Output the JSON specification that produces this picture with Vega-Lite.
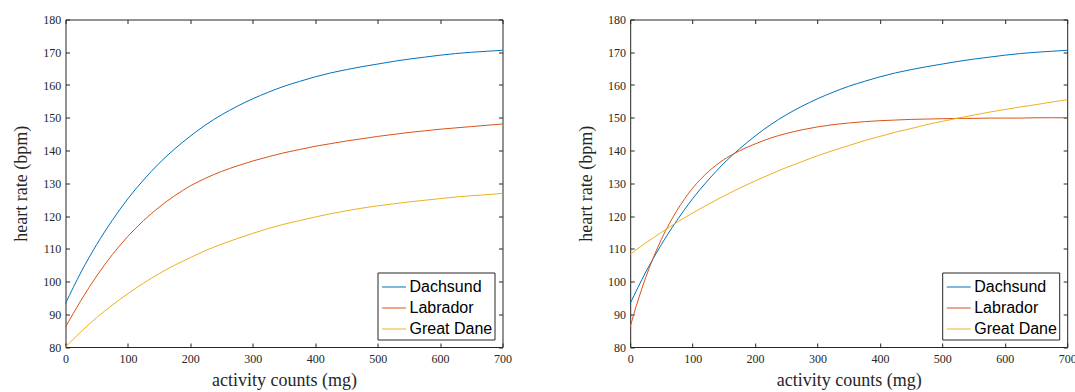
{
  "$schema": "https://vega.github.io/schema/vega-lite/v6.json",
  "padding": {"left": 12.5, "top": 13.5, "right": 5, "bottom": 0},
  "bounds": "flush",
  "spacing": 127.7,
  "background": "white",
  "datasets": {
    "left": [
      {"x":0,"y":93.3,"breed":"Dachsund"},{"x":25,"y":102.9,"breed":"Dachsund"},{"x":50,"y":111.3,"breed":"Dachsund"},{"x":75,"y":118.7,"breed":"Dachsund"},{"x":100,"y":125.3,"breed":"Dachsund"},{"x":125,"y":131.0,"breed":"Dachsund"},{"x":150,"y":136.1,"breed":"Dachsund"},{"x":175,"y":140.5,"breed":"Dachsund"},{"x":200,"y":144.4,"breed":"Dachsund"},{"x":225,"y":147.9,"breed":"Dachsund"},{"x":250,"y":150.9,"breed":"Dachsund"},{"x":275,"y":153.5,"breed":"Dachsund"},{"x":300,"y":155.8,"breed":"Dachsund"},{"x":325,"y":157.8,"breed":"Dachsund"},{"x":350,"y":159.6,"breed":"Dachsund"},{"x":375,"y":161.1,"breed":"Dachsund"},{"x":400,"y":162.5,"breed":"Dachsund"},{"x":425,"y":163.7,"breed":"Dachsund"},{"x":450,"y":164.7,"breed":"Dachsund"},{"x":475,"y":165.6,"breed":"Dachsund"},{"x":500,"y":166.4,"breed":"Dachsund"},{"x":525,"y":167.2,"breed":"Dachsund"},{"x":550,"y":167.9,"breed":"Dachsund"},{"x":575,"y":168.5,"breed":"Dachsund"},{"x":600,"y":169.1,"breed":"Dachsund"},{"x":625,"y":169.6,"breed":"Dachsund"},{"x":650,"y":170.0,"breed":"Dachsund"},{"x":675,"y":170.3,"breed":"Dachsund"},{"x":700,"y":170.6,"breed":"Dachsund"},
      {"x":0,"y":86.1,"breed":"Labrador"},{"x":25,"y":94.3,"breed":"Labrador"},{"x":50,"y":101.7,"breed":"Labrador"},{"x":75,"y":108.2,"breed":"Labrador"},{"x":100,"y":113.8,"breed":"Labrador"},{"x":125,"y":118.6,"breed":"Labrador"},{"x":150,"y":122.7,"breed":"Labrador"},{"x":175,"y":126.2,"breed":"Labrador"},{"x":200,"y":129.2,"breed":"Labrador"},{"x":225,"y":131.6,"breed":"Labrador"},{"x":250,"y":133.6,"breed":"Labrador"},{"x":275,"y":135.3,"breed":"Labrador"},{"x":300,"y":136.8,"breed":"Labrador"},{"x":325,"y":138.1,"breed":"Labrador"},{"x":350,"y":139.3,"breed":"Labrador"},{"x":375,"y":140.3,"breed":"Labrador"},{"x":400,"y":141.3,"breed":"Labrador"},{"x":425,"y":142.1,"breed":"Labrador"},{"x":450,"y":142.9,"breed":"Labrador"},{"x":475,"y":143.6,"breed":"Labrador"},{"x":500,"y":144.3,"breed":"Labrador"},{"x":525,"y":144.9,"breed":"Labrador"},{"x":550,"y":145.5,"breed":"Labrador"},{"x":575,"y":146.0,"breed":"Labrador"},{"x":600,"y":146.5,"breed":"Labrador"},{"x":625,"y":146.9,"breed":"Labrador"},{"x":650,"y":147.3,"breed":"Labrador"},{"x":675,"y":147.7,"breed":"Labrador"},{"x":700,"y":148.1,"breed":"Labrador"},
      {"x":0,"y":80.0,"breed":"Great Dane"},{"x":25,"y":84.7,"breed":"Great Dane"},{"x":50,"y":89.0,"breed":"Great Dane"},{"x":75,"y":92.8,"breed":"Great Dane"},{"x":100,"y":96.3,"breed":"Great Dane"},{"x":125,"y":99.5,"breed":"Great Dane"},{"x":150,"y":102.4,"breed":"Great Dane"},{"x":175,"y":105.0,"breed":"Great Dane"},{"x":200,"y":107.3,"breed":"Great Dane"},{"x":225,"y":109.5,"breed":"Great Dane"},{"x":250,"y":111.4,"breed":"Great Dane"},{"x":275,"y":113.1,"breed":"Great Dane"},{"x":300,"y":114.7,"breed":"Great Dane"},{"x":325,"y":116.2,"breed":"Great Dane"},{"x":350,"y":117.5,"breed":"Great Dane"},{"x":375,"y":118.6,"breed":"Great Dane"},{"x":400,"y":119.7,"breed":"Great Dane"},{"x":425,"y":120.7,"breed":"Great Dane"},{"x":450,"y":121.6,"breed":"Great Dane"},{"x":475,"y":122.4,"breed":"Great Dane"},{"x":500,"y":123.1,"breed":"Great Dane"},{"x":525,"y":123.7,"breed":"Great Dane"},{"x":550,"y":124.3,"breed":"Great Dane"},{"x":575,"y":124.8,"breed":"Great Dane"},{"x":600,"y":125.3,"breed":"Great Dane"},{"x":625,"y":125.8,"breed":"Great Dane"},{"x":650,"y":126.2,"breed":"Great Dane"},{"x":675,"y":126.5,"breed":"Great Dane"},{"x":700,"y":126.9,"breed":"Great Dane"}
    ],
    "right": [
      {"x":0,"y":93.3,"breed":"Dachsund"},{"x":25,"y":102.9,"breed":"Dachsund"},{"x":50,"y":111.3,"breed":"Dachsund"},{"x":75,"y":118.7,"breed":"Dachsund"},{"x":100,"y":125.3,"breed":"Dachsund"},{"x":125,"y":131.0,"breed":"Dachsund"},{"x":150,"y":136.1,"breed":"Dachsund"},{"x":175,"y":140.5,"breed":"Dachsund"},{"x":200,"y":144.4,"breed":"Dachsund"},{"x":225,"y":147.9,"breed":"Dachsund"},{"x":250,"y":150.9,"breed":"Dachsund"},{"x":275,"y":153.5,"breed":"Dachsund"},{"x":300,"y":155.8,"breed":"Dachsund"},{"x":325,"y":157.8,"breed":"Dachsund"},{"x":350,"y":159.6,"breed":"Dachsund"},{"x":375,"y":161.1,"breed":"Dachsund"},{"x":400,"y":162.5,"breed":"Dachsund"},{"x":425,"y":163.7,"breed":"Dachsund"},{"x":450,"y":164.7,"breed":"Dachsund"},{"x":475,"y":165.6,"breed":"Dachsund"},{"x":500,"y":166.4,"breed":"Dachsund"},{"x":525,"y":167.2,"breed":"Dachsund"},{"x":550,"y":167.9,"breed":"Dachsund"},{"x":575,"y":168.5,"breed":"Dachsund"},{"x":600,"y":169.1,"breed":"Dachsund"},{"x":625,"y":169.6,"breed":"Dachsund"},{"x":650,"y":170.0,"breed":"Dachsund"},{"x":675,"y":170.3,"breed":"Dachsund"},{"x":700,"y":170.6,"breed":"Dachsund"},
      {"x":0,"y":86.1,"breed":"Labrador"},{"x":5,"y":89.5,"breed":"Labrador"},{"x":10,"y":92.7,"breed":"Labrador"},{"x":25,"y":101.3,"breed":"Labrador"},{"x":50,"y":112.9,"breed":"Labrador"},{"x":75,"y":121.7,"breed":"Labrador"},{"x":100,"y":128.5,"breed":"Labrador"},{"x":125,"y":133.5,"breed":"Labrador"},{"x":150,"y":137.2,"breed":"Labrador"},{"x":175,"y":139.9,"breed":"Labrador"},{"x":200,"y":142.0,"breed":"Labrador"},{"x":225,"y":143.8,"breed":"Labrador"},{"x":250,"y":145.2,"breed":"Labrador"},{"x":275,"y":146.3,"breed":"Labrador"},{"x":300,"y":147.2,"breed":"Labrador"},{"x":325,"y":147.9,"breed":"Labrador"},{"x":350,"y":148.4,"breed":"Labrador"},{"x":375,"y":148.8,"breed":"Labrador"},{"x":400,"y":149.1,"breed":"Labrador"},{"x":425,"y":149.3,"breed":"Labrador"},{"x":450,"y":149.5,"breed":"Labrador"},{"x":475,"y":149.6,"breed":"Labrador"},{"x":500,"y":149.7,"breed":"Labrador"},{"x":525,"y":149.8,"breed":"Labrador"},{"x":550,"y":149.8,"breed":"Labrador"},{"x":575,"y":149.9,"breed":"Labrador"},{"x":600,"y":149.9,"breed":"Labrador"},{"x":625,"y":149.9,"breed":"Labrador"},{"x":650,"y":150.0,"breed":"Labrador"},{"x":675,"y":150.0,"breed":"Labrador"},{"x":700,"y":150.0,"breed":"Labrador"},
      {"x":0,"y":108.3,"breed":"Great Dane"},{"x":25,"y":111.8,"breed":"Great Dane"},{"x":50,"y":115.0,"breed":"Great Dane"},{"x":75,"y":118.1,"breed":"Great Dane"},{"x":100,"y":120.9,"breed":"Great Dane"},{"x":125,"y":123.6,"breed":"Great Dane"},{"x":150,"y":126.1,"breed":"Great Dane"},{"x":175,"y":128.5,"breed":"Great Dane"},{"x":200,"y":130.7,"breed":"Great Dane"},{"x":225,"y":132.8,"breed":"Great Dane"},{"x":250,"y":134.8,"breed":"Great Dane"},{"x":275,"y":136.6,"breed":"Great Dane"},{"x":300,"y":138.4,"breed":"Great Dane"},{"x":325,"y":140.0,"breed":"Great Dane"},{"x":350,"y":141.5,"breed":"Great Dane"},{"x":375,"y":143.0,"breed":"Great Dane"},{"x":400,"y":144.3,"breed":"Great Dane"},{"x":425,"y":145.6,"breed":"Great Dane"},{"x":450,"y":146.7,"breed":"Great Dane"},{"x":475,"y":147.9,"breed":"Great Dane"},{"x":500,"y":148.9,"breed":"Great Dane"},{"x":525,"y":149.9,"breed":"Great Dane"},{"x":550,"y":150.8,"breed":"Great Dane"},{"x":575,"y":151.7,"breed":"Great Dane"},{"x":600,"y":152.5,"breed":"Great Dane"},{"x":625,"y":153.3,"breed":"Great Dane"},{"x":650,"y":154.0,"breed":"Great Dane"},{"x":675,"y":154.8,"breed":"Great Dane"},{"x":700,"y":155.5,"breed":"Great Dane"}
    ]
  },
  "hconcat": [
    {
      "width": 437, "height": 327.5,
      "data": {"name": "left"},
      "layer": [
        {
          "mark": {"type": "line", "strokeWidth": 1, "interpolate": "monotone"},
          "encoding": {
            "x": {"field": "x", "type": "quantitative", "scale": {"domain": [0, 700], "nice": false}, "axis": {"values": [0,100,200,300,400,500,600,700], "title": "activity counts (mg)"}},
            "y": {"field": "y", "type": "quantitative", "scale": {"domain": [80, 180], "nice": false, "zero": false}, "axis": {"values": [80,90,100,110,120,130,140,150,160,170,180], "title": "heart rate (bpm)"}},
            "color": {"field": "breed", "type": "nominal", "sort": ["Dachsund", "Labrador", "Great Dane"], "scale": {"domain": ["Dachsund", "Labrador", "Great Dane"], "range": ["#0072BD", "#D95319", "#EDB120"]}, "legend": {"title": null}}
          }
        },
        {
          "mark": {"type": "line", "opacity": 0},
          "encoding": {
            "x": {"field": "x", "type": "quantitative", "axis": {"orient": "top", "labels": false, "title": null, "values": [0,100,200,300,400,500,600,700]}},
            "y": {"field": "y", "type": "quantitative", "axis": {"orient": "right", "labels": false, "title": null, "values": [80,90,100,110,120,130,140,150,160,170,180]}},
            "detail": {"field": "breed"}
          }
        }
      ],
      "resolve": {"axis": {"x": "independent", "y": "independent"}}
    },
    {
      "width": 437, "height": 327.5,
      "data": {"name": "right"},
      "layer": [
        {
          "mark": {"type": "line", "strokeWidth": 1, "interpolate": "monotone"},
          "encoding": {
            "x": {"field": "x", "type": "quantitative", "scale": {"domain": [0, 700], "nice": false}, "axis": {"values": [0,100,200,300,400,500,600,700], "title": "activity counts (mg)"}},
            "y": {"field": "y", "type": "quantitative", "scale": {"domain": [80, 180], "nice": false, "zero": false}, "axis": {"values": [80,90,100,110,120,130,140,150,160,170,180], "title": "heart rate (bpm)"}},
            "color": {"field": "breed", "type": "nominal", "sort": ["Dachsund", "Labrador", "Great Dane"], "scale": {"domain": ["Dachsund", "Labrador", "Great Dane"], "range": ["#0072BD", "#D95319", "#EDB120"]}, "legend": {"title": null}}
          }
        },
        {
          "mark": {"type": "line", "opacity": 0},
          "encoding": {
            "x": {"field": "x", "type": "quantitative", "axis": {"orient": "top", "labels": false, "title": null, "values": [0,100,200,300,400,500,600,700]}},
            "y": {"field": "y", "type": "quantitative", "axis": {"orient": "right", "labels": false, "title": null, "values": [80,90,100,110,120,130,140,150,160,170,180]}},
            "detail": {"field": "breed"}
          }
        }
      ],
      "resolve": {"axis": {"x": "independent", "y": "independent"}}
    }
  ],
  "resolve": {"scale": {"color": "independent"}, "legend": {"color": "independent"}},
  "config": {
    "font": "Liberation Serif",
    "view": {"stroke": null},
    "axis": {
      "domainColor": "#262626", "domainWidth": 1,
      "tickColor": "#262626", "tickWidth": 1, "tickSize": -4,
      "labelColor": "#262626", "labelFont": "Liberation Serif", "labelFontSize": 12,
      "labelFlush": false, "labelOverlap": false,
      "titleColor": "#262626", "titleFont": "Liberation Serif", "titleFontSize": 18, "titleFontWeight": "normal",
      "grid": false
    },
    "axisX": {"titlePadding": 7, "labelPadding": 10.5, "labelFont": "Liberation Serif"},
    "axisY": {"titlePadding": 12, "labelPadding": 8.7, "labelFont": "Liberation Serif"},
    "legend": {
      "orient": "bottom-right", "offset": 8, "padding": 2,
      "strokeColor": "#262626", "fillColor": "white", "cornerRadius": 0,
      "labelFont": "Liberation Sans", "labelFontSize": 16, "labelColor": "#000000", "labelOffset": 3, "labelLimit": 200,
      "symbolType": "stroke", "symbolSize": 576, "symbolStrokeWidth": 1, "symbolOffset": 2, "rowPadding": 0
    }
  }
}
